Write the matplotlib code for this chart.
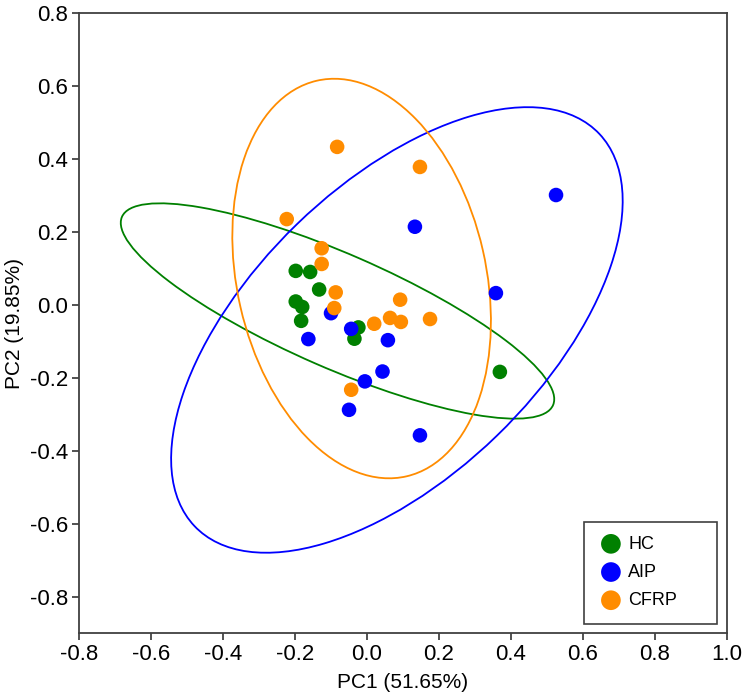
import matplotlib
matplotlib.use("Agg")
import matplotlib.pyplot as plt
from matplotlib.patches import Ellipse, Rectangle
from matplotlib.ticker import FuncFormatter
import numpy as np

plt.rcParams['font.family'] = ['Liberation Sans', 'DejaVu Sans']
plt.rcParams['axes.unicode_minus'] = False

# puntos por grupo (PC1, PC2)
hc_x = [-0.198, -0.158, -0.133, -0.198, -0.180, -0.183, -0.024, -0.035, 0.369]
hc_y = [0.093, 0.090, 0.042, 0.009, -0.006, -0.044, -0.062, -0.093, -0.184]
aip_x = [-0.100, -0.044, -0.163, 0.058, 0.043, -0.006, -0.050, 0.147, 0.358, 0.133, 0.525]
aip_y = [-0.023, -0.066, -0.094, -0.097, -0.183, -0.210, -0.288, -0.358, 0.032, 0.214, 0.301]
cfrp_x = [-0.223, -0.126, -0.126, -0.087, -0.091, 0.092, 0.020, 0.064, 0.094, 0.175, -0.044, -0.083, 0.147]
cfrp_y = [0.235, 0.155, 0.112, 0.034, -0.009, 0.014, -0.052, -0.036, -0.047, -0.039, -0.233, 0.433, 0.378]

# elipses de confianza: centro, ancho, alto, angulo
hc_elipse = ((-0.082, -0.017), 1.304, 0.313, -23.3)
aip_elipse = ((0.083, -0.069), 1.556, 0.803, 43.7)
cfrp_elipse = ((-0.015, 0.072), 1.113, 0.691, -77.0)

grupos = ["HC", "AIP", "CFRP"]
colores = {"HC": "#008000", "AIP": "#0000FF", "CFRP": "#FF8C00"}
datos = {"HC": (hc_x, hc_y, hc_elipse),
         "AIP": (aip_x, aip_y, aip_elipse),
         "CFRP": (cfrp_x, cfrp_y, cfrp_elipse)}

fig = plt.figure(figsize=(7.44, 6.97), dpi=100)
ax = fig.add_axes([0.1062, 0.0918, 0.871, 0.8895])

for g in grupos:
    xs, ys, (centro, w, h, ang) = datos[g]
    ax.add_patch(Ellipse(centro, w, h, angle=ang, fill=False,
                         edgecolor=colores[g], lw=1.3, zorder=1))

for i, g in enumerate(grupos):
    xs, ys, _ = datos[g]
    ax.scatter(xs, ys, s=110, color=colores[g], edgecolors='none',
               zorder=2 + i, label=g)

ax.set_xlim(-0.8, 1.0)
ax.set_ylim(-0.9, 0.8)
ax.set_xticks(np.arange(-0.8, 1.01, 0.2))
ax.set_yticks(np.arange(-0.8, 0.81, 0.2))
fmt = FuncFormatter(lambda v, _: f"{round(v, 1) + 0:.1f}")
ax.xaxis.set_major_formatter(fmt)
ax.yaxis.set_major_formatter(fmt)
ax.tick_params(direction='out', length=5, width=1.2, colors='#333333',
               labelsize=16, labelcolor='black', pad=3)
for sp in ax.spines.values():
    sp.set_color('#404040')
    sp.set_linewidth(1.3)

ax.set_xlabel("PC1 (51.65%)", fontsize=15, labelpad=6)
ax.set_ylabel("PC2 (19.85%)", fontsize=15, labelpad=4)

# marco de la leyenda
ax.add_patch(Rectangle((0.779, 0.0145), 0.206, 0.165, transform=ax.transAxes,
                       fill=False, edgecolor='#404040', lw=1.2, zorder=10))
leg = ax.legend(loc='upper left', bbox_to_anchor=(0.779, 0.179),
                frameon=False, fontsize=13, markerscale=1.35,
                handletextpad=0.2, labelspacing=0.62, borderaxespad=0,
                borderpad=0.75, handlelength=1.5)

fig.savefig("out.png", dpi=100)
